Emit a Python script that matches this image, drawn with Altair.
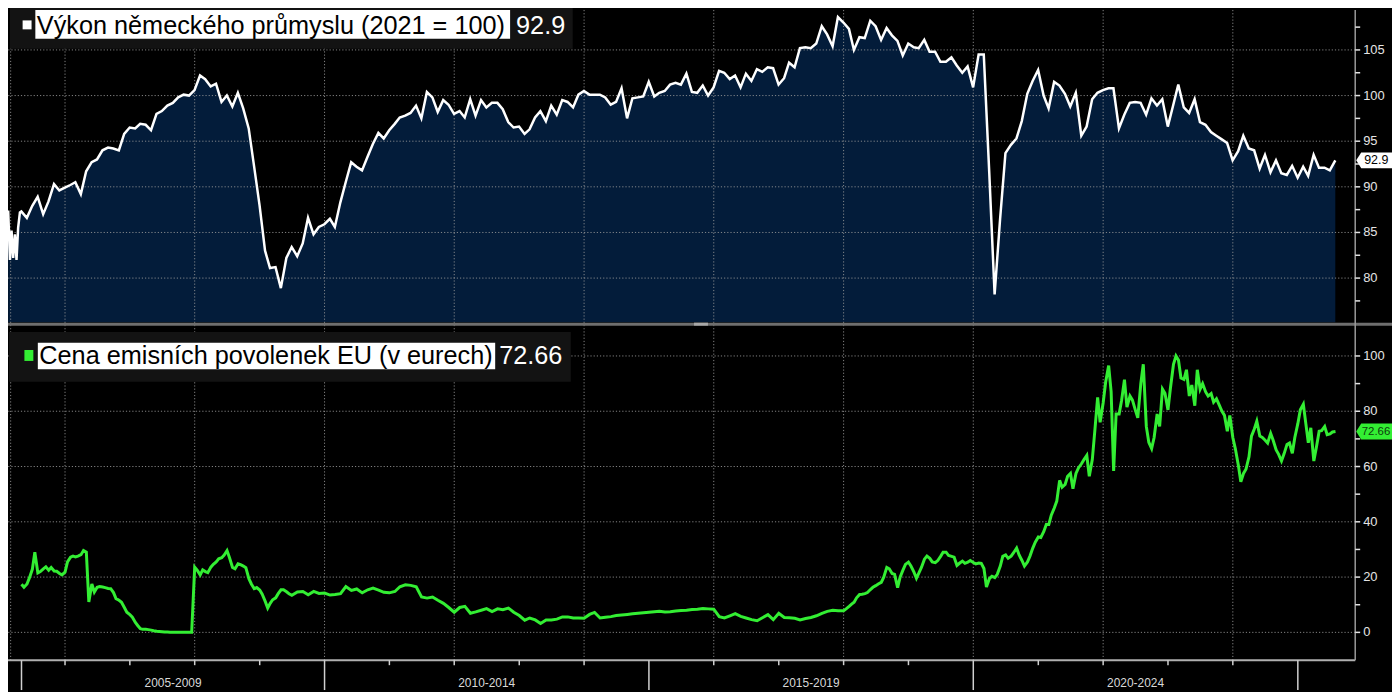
import altair as alt
import pandas as pd

# ------------------------------------------------------------------ data
IP_TITLE = "Výkon německého průmyslu (2021 = 100)"
EUA_TITLE = "Cena emisních povolenek EU (v eurech)"

# German industrial output (2021 = 100): first readings of 2005
IP_EARLY_DATES = ["2005-02-15", "2005-02-25", "2005-03-06", "2005-03-15",
                  "2005-03-25", "2005-04-03", "2005-04-12", "2005-04-22"]
IP_EARLY = [87.4, 82.0, 85.2, 82.2, 84.8, 82.0, 85.5, 87.2]

# then monthly (month-end) values, April 2005 .. July 2025
IP_MONTHLY_FIRST_MONTH = "2005-04"
IP_MONTHLY = [
    87.3, 86.6, 87.9, 88.9, 87.0, 88.4, 90.3, 89.6, 89.9, 90.2, 90.5, 89.2,
    91.7, 92.7, 93.0, 94.0, 94.3, 94.2, 94.0, 95.8, 96.5, 96.4, 96.9, 96.8,
    96.2, 98.0, 98.3, 98.9, 99.2, 99.8, 100.1, 100.0, 100.6, 102.2, 101.8, 101.0,
    101.3, 99.3, 100.0, 98.8, 100.3, 98.6, 96.4, 92.3, 88.0, 83.0, 81.1, 81.2,
    78.9, 82.2, 83.4, 82.4, 83.8, 86.6, 84.8, 85.6, 85.9, 86.5, 85.6, 88.3,
    90.5, 92.7, 92.2, 91.8, 93.3, 94.7, 95.9, 95.3, 96.2, 96.9, 97.6, 97.8,
    98.1, 98.9, 97.5, 100.4, 99.8, 98.2, 99.5, 99.0, 98.0, 98.3, 97.6, 99.6,
    97.8, 99.5, 98.7, 99.2, 99.2, 98.5, 97.1, 96.5, 96.6, 95.8, 96.3, 97.6,
    98.3, 97.2, 98.9, 97.9, 99.5, 99.3, 98.7, 100.1, 100.5, 100.1, 100.1, 100.1,
    99.8, 99.0, 99.3, 100.8, 97.5, 99.7, 99.8, 99.9, 101.5, 99.9, 100.3, 100.5,
    101.2, 101.4, 101.2, 102.4, 100.4, 100.3, 101.1, 100.0, 100.9, 102.7, 102.5, 101.8,
    102.2, 100.9, 102.4, 101.6, 102.9, 102.6, 103.1, 103.0, 101.2, 101.9, 103.6, 103.1,
    105.2, 105.3, 105.2, 105.7, 107.6, 106.7, 105.4, 108.6, 108.0, 107.3, 105.0, 106.4,
    106.3, 108.2, 107.6, 106.1, 107.4, 106.6, 106.0, 104.4, 105.7, 105.3, 105.2, 106.1,
    104.8, 104.8, 103.7, 103.7, 104.2, 103.3, 102.5, 103.2, 100.9, 104.5, 104.5, 91.5,
    78.2, 86.5, 93.7, 94.6, 95.3, 97.2, 100.2, 101.6, 102.8, 100.0, 98.6, 101.5,
    101.1, 100.2, 98.8, 100.3, 95.6, 96.6, 99.6, 100.3, 100.6, 100.8, 100.8, 96.4,
    97.9, 99.2, 99.3, 99.2, 97.9, 99.7, 98.9, 99.6, 96.6, 99.0, 101.2, 98.7,
    98.1, 99.6, 97.1, 96.8, 96.0, 95.6, 95.2, 94.8, 92.9, 93.9, 95.6, 94.2,
    94.0, 92.0, 93.5, 91.6, 92.9, 91.5, 91.3, 92.3, 91.0, 92.2, 91.2, 93.5,
    92.1, 92.1, 91.8, 92.9,
]

# EU carbon allowance price (EUR): semi-monthly May 2005 .. June 2009
EUA_A_START = "2005-05-01"
EUA_A = [
    17.4, 16.3, 17.5, 19.8, 22.8, 29.0, 21.5, 22.0, 23.0, 23.7, 22.5, 23.5,
    22.2, 22.1, 21.3, 20.8, 21.8, 25.5, 27.2, 27.6, 27.3, 27.6, 28.1, 29.6,
    29.0, 11.0, 17.5, 14.6, 16.3, 16.6, 16.4, 16.2, 15.9, 15.8, 14.4, 12.2,
    11.6, 10.9, 9.0, 7.3, 6.4, 5.5, 3.6, 2.4, 1.3, 1.1, 1.1, 1.0,
    0.8, 0.6, 0.4, 0.3, 0.2, 0.1, 0.1, 0.05, 0.05, 0.03, 0.03, 0.02,
    0.02, 0.02, 0.02, 0.03, 23.6, 22.5, 20.8, 22.6, 22.0, 21.6, 23.6, 24.6,
    25.5, 26.6, 27.0, 28.0, 29.6, 27.0, 23.5, 23.0, 24.8, 24.5, 24.0, 23.4,
    19.4, 17.5, 15.8, 16.2, 15.3, 13.8, 11.2, 8.8, 10.5, 11.8, 12.5, 14.0,
    15.4, 15.4, 14.7, 14.0,
]
# monthly July 2009 .. December 2017
EUA_B_START = "2009-07-01"
EUA_B = [
    13.4, 14.6, 14.8, 13.6, 14.8, 14.1,
    14.2, 13.5, 13.7, 14.0, 16.6, 15.2, 15.7, 14.3, 15.4, 16.0, 15.3, 14.5,
    14.3, 14.8, 16.5, 17.2, 17.0, 16.5, 12.8, 12.4, 12.8, 11.6, 10.5, 9.0,
    7.3, 9.0, 9.4, 6.9, 7.4, 8.0, 8.6, 7.5, 8.5, 8.2, 8.8, 7.3,
    6.1, 4.4, 5.2, 4.5, 3.2, 4.5, 4.5, 4.8, 5.6, 5.6, 5.2, 5.2,
    5.1, 6.5, 7.2, 5.2, 5.5, 5.7, 6.1, 6.3, 6.5, 6.7, 6.9, 7.1,
    7.3, 7.5, 7.6, 7.4, 7.5, 7.7, 7.9, 8.0, 8.3, 8.4, 8.6, 8.5,
    8.4, 5.7, 5.2, 6.0, 6.8, 5.8, 5.2, 4.6, 4.2, 5.3, 6.4, 4.6,
    6.9, 5.4, 5.3, 5.1, 4.5, 5.0, 5.4, 6.0, 6.9, 7.6, 8.0, 7.8,
]
# semi-monthly January 2018 .. August 2025
EUA_C_START = "2018-01-01"
EUA_C = [
    7.8, 8.5, 9.4, 10.2, 10.9, 12.5, 13.7, 13.8, 14.0, 14.4, 15.5, 16.3,
    16.9, 17.5, 18.1, 20.0, 23.5, 23.0, 21.3, 21.0, 16.2, 20.0, 22.5, 24.6,
    25.4, 24.0, 21.8, 19.6, 21.5, 23.5, 26.5, 27.6, 26.8, 25.5, 25.2, 26.0,
    27.5, 29.0, 29.0, 27.8, 27.5, 27.2, 24.2, 25.0, 25.8, 25.0, 25.4, 26.0,
    25.3, 24.8, 25.1, 25.0, 23.1, 16.4, 19.5, 20.3, 19.8, 21.0, 24.0, 27.5,
    28.0, 26.8, 27.6, 28.8, 30.5, 28.0, 26.0, 24.0, 25.5, 27.6, 30.5, 32.6,
    34.5, 34.3, 36.5, 39.0, 39.0, 42.4, 45.0, 47.5, 55.0, 52.5, 53.5, 56.5,
    57.5, 52.0, 57.5, 59.5, 61.0, 62.5, 64.0, 56.5, 62.5, 72.8, 85.0, 76.0,
    83.0, 90.5, 96.5, 87.0, 58.4, 79.0, 79.0, 84.0, 91.4, 81.5, 85.5, 84.0,
    80.5, 77.6, 90.0, 97.0, 74.5, 68.8, 66.5, 70.5, 79.0, 74.5, 88.0, 86.5,
    80.5, 88.5, 97.0, 100.0, 98.5, 92.0, 91.5, 95.0, 85.5, 89.5, 82.0, 95.0,
    88.0, 90.0, 87.0, 85.5, 86.4, 83.3, 84.5, 82.5, 80.0, 78.5, 72.8, 78.5,
    70.5, 66.5, 60.5, 54.5, 57.5, 59.0, 63.5, 71.0, 73.6, 76.4, 71.0, 70.5,
    69.5, 68.5, 72.0, 69.5, 66.0, 64.4, 62.0, 64.5, 68.0, 68.5, 64.8, 70.5,
    75.5, 80.5, 82.5, 75.5, 68.6, 74.0, 62.0, 66.8, 72.8, 73.0, 74.5, 71.5,
    71.8, 72.5, 72.66,
]

TOP_LABELS = [80, 85, 90, 95, 100, 105]
TOP_MINOR = [77.5, 82.5, 87.5, 92.5, 97.5, 102.5, 107.5, 110]
BOT_LABELS = [0, 20, 40, 60, 80, 100]
BOT_MINOR = [10, 30, 50, 70, 90]
TOP_GRID = [80, 85, 90, 95, 100, 105, 110]
GRID_DATES = ["2005-03-01", "2006-01-01", "2008-01-01", "2010-01-01",
              "2012-01-01", "2014-01-01", "2016-01-01", "2018-01-01",
              "2020-01-01", "2022-01-01", "2024-01-01"]
YEAR_TICKS = ["2006-01-01", "2007-01-01", "2008-01-01", "2009-01-01",
              "2011-01-01", "2012-01-01", "2013-01-01", "2014-01-01",
              "2016-01-01", "2017-01-01", "2018-01-01", "2019-01-01",
              "2021-01-01", "2022-01-01", "2023-01-01", "2024-01-01"]
PERIOD_LABELS = ["2005-2009", "2010-2014", "2015-2019", "2020-2024"]
PERIOD_ENDS = ["2010-01-01", "2015-01-01", "2020-01-01", "2025-01-01"]

# ------------------------------------------------------------------ tables
month_ends = (pd.date_range(pd.Period(IP_MONTHLY_FIRST_MONTH).to_timestamp() + pd.offsets.MonthBegin(1),
                            periods=len(IP_MONTHLY), freq="MS") - pd.Timedelta(days=1))
ip = pd.DataFrame({
    "date": list(pd.to_datetime(IP_EARLY_DATES)) + list(month_ends),
    "value": IP_EARLY + IP_MONTHLY,
})
eua = pd.concat([
    pd.DataFrame({"date": pd.date_range(EUA_A_START, periods=len(EUA_A), freq="SMS"), "value": EUA_A}),
    pd.DataFrame({"date": pd.date_range(EUA_B_START, periods=len(EUA_B), freq="MS"), "value": EUA_B}),
    pd.DataFrame({"date": pd.date_range(EUA_C_START, periods=len(EUA_C), freq="SMS"), "value": EUA_C}),
], ignore_index=True)

period_starts = [eua["date"].iloc[0]] + list(pd.to_datetime(PERIOD_ENDS[:-1]))
period_ends = list(pd.to_datetime(PERIOD_ENDS))
periods = pd.DataFrame({
    "label": PERIOD_LABELS,
    "date": [s + (e - s) / 2 for s, e in zip(period_starts, period_ends)],
})
long_ticks = pd.DataFrame({"date": period_starts + [period_ends[-1]]})
short_ticks = pd.DataFrame({"date": pd.to_datetime(YEAR_TICKS)})
grid = pd.DataFrame({"date": pd.to_datetime(GRID_DATES)})

top_grid = pd.DataFrame({"v": TOP_GRID})
top_lab = pd.DataFrame({"v": TOP_LABELS, "label": [str(v) for v in TOP_LABELS]})
top_all = pd.DataFrame({"v": TOP_LABELS + TOP_MINOR})
bot_lab = pd.DataFrame({"v": BOT_LABELS, "label": [str(v) for v in BOT_LABELS]})
bot_all = pd.DataFrame({"v": BOT_LABELS + BOT_MINOR})

ip_last = pd.DataFrame({"value": [IP_MONTHLY[-1]], "label": [f"{IP_MONTHLY[-1]:.1f}"]})
eua_last = pd.DataFrame({"value": [EUA_C[-1]], "label": [f"{EUA_C[-1]:.2f}"]})
ip_title = pd.DataFrame({"title": [IP_TITLE], "label": [f"{IP_MONTHLY[-1]:.1f}"]})
eua_title = pd.DataFrame({"title": [EUA_TITLE], "label": [f"{EUA_C[-1]:.2f}"]})

# ------------------------------------------------------------------ layout / style
W, H = 1355, 654
FONT = "Liberation Sans, Arial, sans-serif"
NAVY = "#031c3a"
GREEN = "#33ee33"
GRID = "#9a9a9a"
LABEL = "#e4e4e4"

xs = alt.Scale(domain=[alt.DateTime(year=2005, month=2, date=14),
                       alt.DateTime(year=2025, month=11, date=20)], nice=False)
ys_top = alt.Scale(domain=[75.17, 109.38], range=[314, 0], nice=False, zero=False)
ys_bot = alt.Scale(domain=[-10.07, 110.43], range=[654, 319], nice=False, zero=False)


def X():
    return alt.X("date:T", scale=xs, axis=None)


def YT(field="v:Q"):
    return alt.Y(field, scale=ys_top, axis=None)


def YB(field="v:Q"):
    return alt.Y(field, scale=ys_bot, axis=None)


ARROW = "M-1,0L-0.72,-0.444L1,-0.444L1,0.444L-0.72,0.444Z"
DOTS = [1.2, 2]

layers = []

# top panel fill
layers.append(alt.Chart(ip).mark_area(color=NAVY, interpolate="linear").encode(
    x=X(), y=YT("value:Q"), y2=alt.Y2Datum(75.17)))

# grid
layers.append(alt.Chart(grid).mark_rule(color=GRID, strokeWidth=1, strokeDash=DOTS, opacity=0.85).encode(x=X()))
layers.append(alt.Chart(top_grid).mark_rule(color=GRID, strokeWidth=1, strokeDash=DOTS, opacity=0.85).encode(y=YT()))
layers.append(alt.Chart(bot_lab).mark_rule(color=GRID, strokeWidth=1, strokeDash=DOTS, opacity=0.85).encode(y=YB()))

# series
layers.append(alt.Chart(ip).mark_line(color="white", strokeWidth=2.5, interpolate="linear").encode(
    x=X(), y=YT("value:Q")))
layers.append(alt.Chart(eua).mark_line(color=GREEN, strokeWidth=3.0, interpolate="linear").encode(
    x=X(), y=YB("value:Q")))

one = pd.DataFrame({"k": [0]})
# panel separator with handle
layers.append(alt.Chart(one).mark_rule(color="#6e6e6e", strokeWidth=3).encode(
    x=alt.value(0), x2=alt.value(W + 37), y=alt.value(316)))
layers.append(alt.Chart(one).mark_rect(color="#a8a8a8").encode(
    x=alt.value(690), x2=alt.value(704), y=alt.value(314.5), y2=alt.value(317.5)))
# axis lines
layers.append(alt.Chart(one).mark_rule(color="#b0b0b0", strokeWidth=2).encode(
    x=alt.value(0), x2=alt.value(W), y=alt.value(H)))
layers.append(alt.Chart(one).mark_rule(color="#9a9a9a", strokeWidth=1.5).encode(
    x=alt.value(W), y=alt.value(0), y2=alt.value(H)))

# y ticks and labels
layers.append(alt.Chart(top_all).mark_rule(color=LABEL, strokeWidth=1.5).encode(
    y=YT(), x=alt.value(W), x2=alt.value(W + 5)))
layers.append(alt.Chart(bot_all).mark_rule(color=LABEL, strokeWidth=1.5).encode(
    y=YB(), x=alt.value(W), x2=alt.value(W + 5)))
layers.append(alt.Chart(top_lab).mark_text(align="left", baseline="middle", font=FONT, fontSize=13, color=LABEL).encode(
    y=YT(), x=alt.value(W + 8), text="label:N"))
layers.append(alt.Chart(bot_lab).mark_text(align="left", baseline="middle", font=FONT, fontSize=13, color=LABEL).encode(
    y=YB(), x=alt.value(W + 8), text="label:N"))

# x ticks and period labels
layers.append(alt.Chart(short_ticks).mark_rule(color="#d0d0d0", strokeWidth=1.5).encode(
    x=X(), y=alt.value(H), y2=alt.value(H + 5)))
layers.append(alt.Chart(long_ticks).mark_rule(color="#d0d0d0", strokeWidth=1.5).encode(
    x=X(), y=alt.value(H), y2=alt.value(H + 30)))
layers.append(alt.Chart(periods).mark_text(align="center", baseline="middle", font=FONT, fontSize=12, color="#d8d8d8").encode(
    x=X(), y=alt.value(H + 23), text="label:N"))

# legend boxes
layers.append(alt.Chart(one).mark_rect(color="#131313").encode(
    x=alt.value(2), x2=alt.value(568), y=alt.value(-10), y2=alt.value(39)))
layers.append(alt.Chart(one).mark_rect(color="white").encode(
    x=alt.value(14.7), x2=alt.value(23.7), y=alt.value(10.5), y2=alt.value(19.5)))
layers.append(alt.Chart(one).mark_rect(color="white").encode(
    x=alt.value(27.5), x2=alt.value(505), y=alt.value(0), y2=alt.value(29)))
layers.append(alt.Chart(ip_title).mark_text(align="left", baseline="alphabetic", font=FONT, fontSize=25.4, color="black").encode(
    x=alt.value(29), y=alt.value(24), text="title:N"))
layers.append(alt.Chart(ip_title).mark_text(align="left", baseline="alphabetic", font=FONT, fontSize=25.4, color="white").encode(
    x=alt.value(511), y=alt.value(24), text="label:N"))

layers.append(alt.Chart(one).mark_rect(color="#131313").encode(
    x=alt.value(1), x2=alt.value(566), y=alt.value(324), y2=alt.value(374)))
layers.append(alt.Chart(one).mark_rect(color=GREEN).encode(
    x=alt.value(16.5), x2=alt.value(25.5), y=alt.value(342), y2=alt.value(353)))
layers.append(alt.Chart(one).mark_rect(color="white").encode(
    x=alt.value(30), x2=alt.value(490), y=alt.value(334.7), y2=alt.value(361.3)))
layers.append(alt.Chart(eua_title).mark_text(align="left", baseline="alphabetic", font=FONT, fontSize=25.4, color="black").encode(
    x=alt.value(31.5), y=alt.value(356.3), text="title:N"))
layers.append(alt.Chart(eua_title).mark_text(align="left", baseline="alphabetic", font=FONT, fontSize=25.4, color="white").encode(
    x=alt.value(494), y=alt.value(356.3), text="label:N"))

# last-value tags on the right
layers.append(alt.Chart(ip_last).mark_point(shape=ARROW, size=1296, filled=True, color="white", opacity=1, strokeWidth=0).encode(
    x=alt.value(W + 19), y=YT("value:Q")))
layers.append(alt.Chart(ip_last).mark_text(align="left", baseline="middle", font=FONT, fontSize=12.5, color="black").encode(
    x=alt.value(W + 9), y=YT("value:Q"), text="label:N"))
layers.append(alt.Chart(eua_last).mark_point(shape=ARROW, size=1296, filled=True, color=GREEN, opacity=1, strokeWidth=0).encode(
    x=alt.value(W + 19), y=YB("value:Q")))
layers.append(alt.Chart(eua_last).mark_text(align="left", baseline="middle", font=FONT, fontSize=11.5, color="#0d3d0d").encode(
    x=alt.value(W + 6.5), y=YB("value:Q"), text="label:N"))

chart = alt.layer(*layers).resolve_scale(y="independent").properties(
    width=W, height=H,
    autosize=alt.AutoSizeParams(type="none"),
    padding={"left": 0, "top": 0, "right": 37, "bottom": 30},
    background="#000000",
).configure_view(strokeWidth=0)

chart.save("out.html", embed_options={"renderer": "svg", "actions": False})
